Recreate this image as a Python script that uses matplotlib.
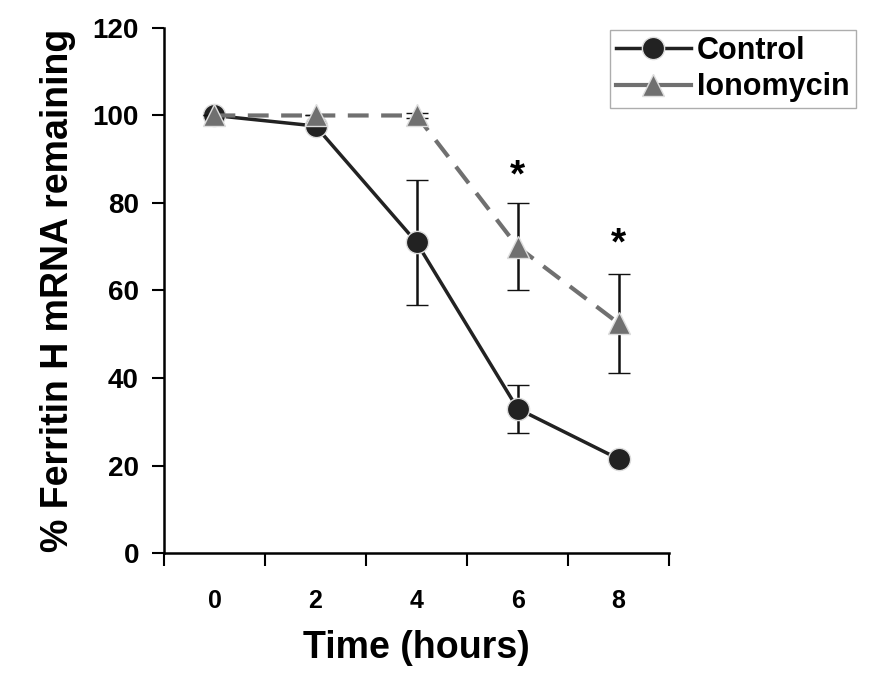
import matplotlib
matplotlib.use('Agg')
import matplotlib.pyplot as plt
from matplotlib.lines import Line2D

plt.rcParams['font.family'] = ['Liberation Sans', 'DejaVu Sans']
plt.rcParams['font.weight'] = 'bold'

# data
hours = [0, 2, 4, 6, 8]
control = [100, 97.6, 71, 33, 21.5]
control_err = [0, 0, 14.3, 5.5, 0]
iono = [100, 100, 100, 70, 52.5]
iono_err = [0, 0, 0.5, 10, 11.3]
star_x = [6, 8]
star_y = [86, 70.5]

fig = plt.figure(figsize=(8.74, 6.74), dpi=100)
ax = fig.add_axes([0.1876, 0.1795, 0.578, 0.779])

ax.errorbar(hours, iono, yerr=iono_err, color='#707070', ls=(0, (5, 3)), lw=3,
            marker='^', ms=16, mfc='#707070', mec='#dddddd', mew=1,
            ecolor='#111111', elinewidth=1.8, capsize=8, capthick=1.8, zorder=3)
ax.errorbar(hours, control, yerr=control_err, color='#222222', lw=2.5,
            marker='o', ms=16, mfc='#222222', mec='#dddddd', mew=1,
            ecolor='#111111', elinewidth=1.8, capsize=8, capthick=1.8, zorder=2)

for x, y in zip(star_x, star_y):
    ax.text(x, y, '*', ha='center', va='center', fontsize=28, fontweight='bold')

ax.set_xlim(-1, 9)
ax.set_ylim(0, 120)
ax.set_yticks(range(0, 121, 20))
ax.set_xticks([-1, 1, 3, 5, 7, 9])
ax.set_xticklabels([])
ax.set_xticks(hours, minor=True)
ax.set_xticklabels([str(h) for h in hours], minor=True)
ax.tick_params(axis='x', which='minor', length=0, pad=26, labelsize=18)
ax.tick_params(axis='x', which='major', direction='out', length=9, width=1.5)
ax.tick_params(axis='y', direction='out', length=9, width=1.5, labelsize=20, pad=9)

for s in ['top', 'right']:
    ax.spines[s].set_visible(False)
for s in ['left', 'bottom']:
    ax.spines[s].set_linewidth(1.8)

ax.set_xlabel('Time (hours)', fontsize=27, fontweight='bold', labelpad=12)
ax.set_ylabel('% Ferritin H mRNA remaining', fontsize=27, fontweight='bold', labelpad=12)

handles = [
    Line2D([], [], color='#222222', lw=2.5, marker='o', ms=16, mfc='#222222', mec='#dddddd'),
    Line2D([], [], color='#707070', lw=3, marker='^', ms=16, mfc='#707070', mec='#dddddd'),
]
leg = fig.legend(handles, ['Control', 'Ionomycin'], loc='upper right',
                 bbox_to_anchor=(0.979, 0.9555), fontsize=22, frameon=True,
                 fancybox=False, edgecolor='#999999', handlelength=2.45,
                 borderpad=0.2, labelspacing=0.2, handletextpad=0.2, borderaxespad=0)
leg.get_frame().set_linewidth(1)

fig.savefig('out.png', dpi=100)
